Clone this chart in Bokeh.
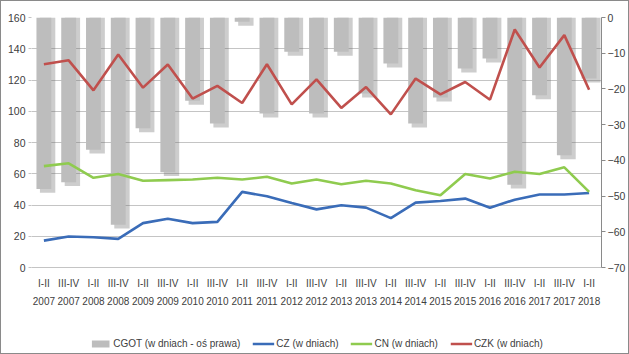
from bokeh.plotting import figure
from bokeh.layouts import column
from bokeh.models import Range1d, LinearAxis, Legend, LegendItem, FixedTicker, ColumnDataSource
from bokeh.transform import dodge
from bokeh.embed import file_html
from bokeh.resources import INLINE

halves = ["I-II", "III-IV"] * 11 + ["I-II"]
years = ["2007", "2007", "2008", "2008", "2009", "2009", "2010", "2010", "2011", "2011",
         "2012", "2012", "2013", "2013", "2014", "2014", "2015", "2015", "2016", "2016",
         "2017", "2017", "2018"]

# CGOT (days, right axis)
cgot = [-48.0, -46.1, -37.0, -58.0, -31.0, -43.3, -23.3, -29.7, -1.2, -26.9, -9.6, -26.9,
        -9.6, -21.3, -12.9, -29.7, -22.4, -14.3, -11.5, -46.8, -21.8, -38.6, -17.1]
# CZ (days)
cz = [17.2, 19.8, 19.4, 18.3, 28.4, 31.2, 28.4, 29.2, 48.4, 45.6, 41.3, 37.2,
      39.8, 38.3, 31.6, 41.5, 42.6, 44.1, 38.3, 43.4, 46.7, 46.7, 47.7]
# CN (days)
cn = [64.9, 66.7, 57.4, 59.8, 55.5, 55.9, 56.3, 57.4, 56.3, 58.1, 53.8, 56.3,
      53.3, 55.5, 53.8, 49.5, 46.2, 59.8, 57.0, 61.3, 59.8, 64.1, 48.4]
# CZK (days)
czk = [130.1, 132.6, 113.4, 136.3, 115.1, 129.9, 108.1, 116.2, 105.3, 130.1, 104.4, 120.4,
       102.1, 115.5, 98.0, 120.9, 110.8, 118.7, 107.4, 152.3, 128.0, 148.7, 113.8]

left_ticks = list(range(0, 161, 20))
right_ticks = list(range(-70, 1, 10))

labels = [f"{h}\n{y}" for h, y in zip(halves, years)]
zeros = [0] * len(cgot)
shadow_bottom = [v - 1.1 for v in cgot]

src = ColumnDataSource(dict(x=labels, cgot=cgot, top=zeros, sb=shadow_bottom,
                            cz=cz, cn=cn, czk=czk))

FONT = "Liberation Sans"
TXT = "#404040"
BAR = "#bdbdbd"
C_CZ, C_CN, C_CZK = "#3a6cb8", "#8fcb4f", "#c0504d"

p = figure(x_range=labels, y_range=Range1d(0, 160), width=627, height=318,
           output_backend="svg", toolbar_location=None,
           min_border_left=30, min_border_right=23, min_border_top=16, min_border_bottom=52)
p.extra_y_ranges = {"r": Range1d(-70, 0)}
p.outline_line_color = None
p.background_fill_color = "white"
p.border_fill_color = "white"

p.xgrid.grid_line_color = None
p.ygrid.grid_line_color = "#c4c4c4"
p.ygrid.grid_line_width = 1

ly = p.yaxis[0]
ly.ticker = FixedTicker(ticks=left_ticks)
ly.axis_line_color = None
ly.major_tick_line_color = "#c4c4c4"
ly.major_tick_out = 3
ly.major_tick_in = 0
ly.minor_tick_line_color = None
ly.major_label_standoff = 3
ly.major_label_text_font = FONT
ly.major_label_text_font_size = "10.5px"
ly.major_label_text_color = TXT

ra = LinearAxis(y_range_name="r", ticker=FixedTicker(ticks=right_ticks))
ra.axis_line_color = "#8a8a8a"
ra.major_tick_line_color = "#8a8a8a"
ra.major_tick_out = 4
ra.major_tick_in = 0
ra.minor_tick_line_color = None
ra.major_label_standoff = 2
ra.major_label_text_font = FONT
ra.major_label_text_font_size = "10.5px"
ra.major_label_text_color = TXT
p.add_layout(ra, "right")

xa = p.xaxis[0]
xa.axis_line_color = "#c4c4c4"
xa.major_tick_line_color = None
xa.major_label_standoff = 4
xa.major_label_text_font = FONT
xa.major_label_text_font_size = "10px"
xa.major_label_text_color = TXT
xa.major_label_text_line_height = 1.65
xa.major_label_orientation = "horizontal"

# bar shadows
p.vbar(x=dodge("x", 0.15, range=p.x_range), top="top", bottom="sb", width=0.62,
       source=src, y_range_name="r", fill_color="#707070", fill_alpha=0.35, line_color=None)
p.vbar(x="x", top="top", bottom="cgot", width=0.6, source=src, y_range_name="r",
       fill_color=BAR, line_color=None)

p.line(x="x", y="cz", source=src, line_color=C_CZ, line_width=2.6)
p.line(x="x", y="cn", source=src, line_color=C_CN, line_width=2.6)
p.line(x="x", y="czk", source=src, line_color=C_CZK, line_width=2.6)

# legend strip (its sample glyphs sit outside the visible range)
pl = figure(width=627, height=34, output_backend="svg", toolbar_location=None,
            x_range=Range1d(0, 1), y_range=Range1d(0, 1),
            min_border_left=0, min_border_right=0, min_border_top=0, min_border_bottom=0)
pl.axis.visible = False
pl.grid.grid_line_color = None
pl.outline_line_color = None
pl.border_fill_color = "white"
hidden = ColumnDataSource(dict(x=[-10, -9], y=[-10, -10], t=[-10, -10], b=[-11, -11]))
r_bar = pl.vbar(x="x", top="t", bottom="b", width=0.1, source=hidden,
                fill_color=BAR, line_color=None)
r_cz = pl.line(x="x", y="y", source=hidden, line_color=C_CZ, line_width=2.6)
r_cn = pl.line(x="x", y="y", source=hidden, line_color=C_CN, line_width=2.6)
r_czk = pl.line(x="x", y="y", source=hidden, line_color=C_CZK, line_width=2.6)

legend = Legend(items=[
    LegendItem(label="CGOT (w dniach - oś prawa)", renderers=[r_bar]),
    LegendItem(label="CZ (w dniach)", renderers=[r_cz]),
    LegendItem(label="CN (w dniach)", renderers=[r_cn]),
    LegendItem(label="CZK (w dniach)", renderers=[r_czk]),
], orientation="horizontal", location="bottom_center")
legend.label_text_font = FONT
legend.label_text_font_size = "10px"
legend.label_text_color = TXT
legend.glyph_width = 22
legend.glyph_height = 9
legend.spacing = 12
legend.label_standoff = 2
legend.padding = 2
legend.margin = 4
legend.border_line_color = None
legend.background_fill_alpha = 0
pl.add_layout(legend, "center")

layout = column(p, pl, spacing=0, styles={"border": "1px solid #8a8a8a", "background": "white"})

open("out.html", "w").write(file_html(layout, INLINE))
